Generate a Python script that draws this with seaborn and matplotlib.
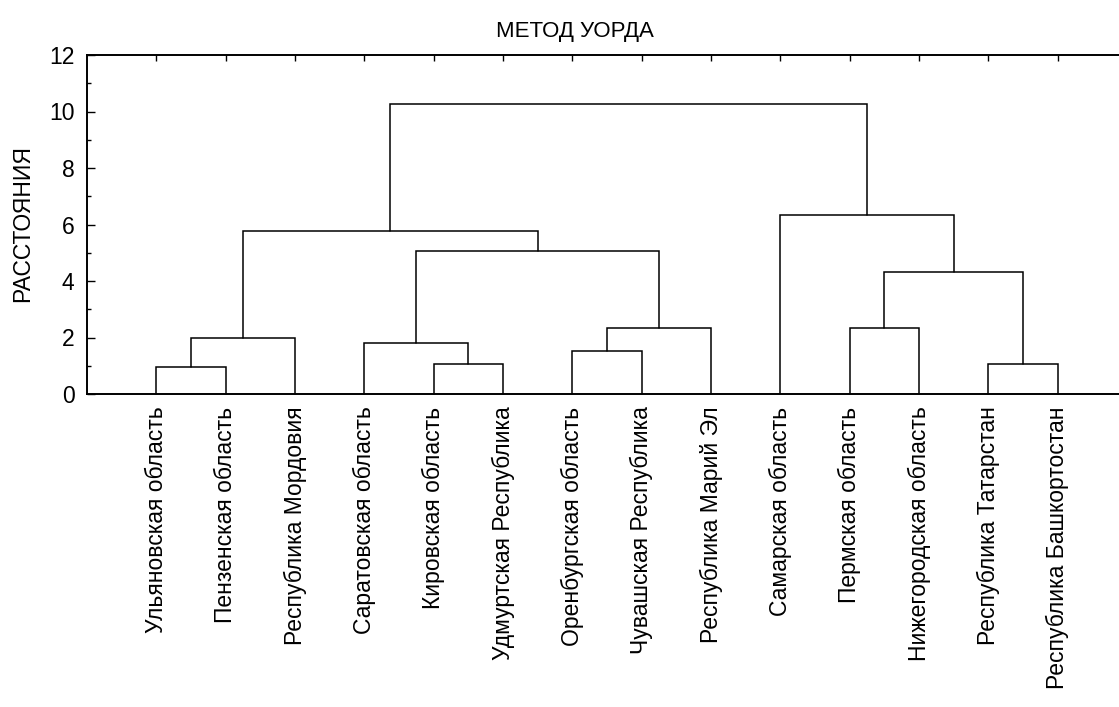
import numpy as np
import matplotlib
matplotlib.use('Agg')
import matplotlib.pyplot as plt
import seaborn as sns
from matplotlib.ticker import MultipleLocator

# --- data: leaf order and Ward linkage (scipy style, leaves 0..13, new clusters 14..) ---
regions = ['Ульяновская область', 'Пензенская область', 'Республика Мордовия',
           'Саратовская область', 'Кировская область', 'Удмуртская Республика',
           'Оренбургская область', 'Чувашская Республика', 'Республика Марий Эл',
           'Самарская область', 'Пермская область', 'Нижегородская область',
           'Республика Татарстан', 'Республика Башкортостан']

merge_left = [0, 4, 12, 6, 3, 14, 10, 17, 20, 18, 19, 9, 24]
merge_right = [1, 5, 13, 7, 15, 2, 11, 8, 16, 21, 23, 22, 25]
merge_height = [0.97, 1.05, 1.07, 1.51, 1.82, 1.97, 2.34, 2.34, 4.33, 5.05, 5.77, 6.34, 10.27]

sns.set_theme(style='white')
plt.rcParams['font.family'] = ['Liberation Sans', 'DejaVu Sans']
plt.rcParams.update({'text.color': 'black', 'xtick.color': 'black',
                     'ytick.color': 'black', 'axes.labelcolor': 'black'})

W, H = 1119, 707
fig = plt.figure(figsize=(W / 100, H / 100), dpi=100)
# axes runs past the right edge of the figure, like the original
ax = fig.add_axes([87 / W, 1 - 394 / H, (1127 - 87) / W, (394 - 55) / H])

# node positions: leaves at 1..n, clusters at midpoint of children
n = len(regions)
node_x = {i: i + 1.0 for i in range(n)}
node_y = {i: 0.0 for i in range(n)}
for k, (a, b, h) in enumerate(zip(merge_left, merge_right, merge_height)):
    xa, xb = node_x[a], node_x[b]
    ax.plot([xa, xa, xb, xb], [node_y[a], h, h, node_y[b]], color='black', lw=1.1,
            solid_joinstyle='miter', clip_on=False)
    node_x[n + k] = (xa + xb) / 2
    node_y[n + k] = h

ax.set_xlim(0, 15)
ax.set_ylim(0, 12)
ax.set_xticks(np.arange(1, n + 1))
ax.set_xticklabels(regions, rotation=90, fontsize=16.5)
ax.yaxis.set_major_locator(MultipleLocator(2))
ax.yaxis.set_minor_locator(MultipleLocator(1))
ax.tick_params(axis='y', which='major', direction='in', length=6, width=1, pad=9,
               labelsize=16.5, color='black', left=True)
ax.tick_params(axis='y', which='minor', direction='in', length=3, width=1, left=True)
ax.tick_params(axis='x', which='major', direction='in', length=4, width=1, pad=9,
               top=True, bottom=False, color='black')

for side in ['left', 'top', 'bottom']:
    ax.spines[side].set_visible(True)
    ax.spines[side].set_color('black')
    ax.spines[side].set_linewidth(1.4)
ax.spines['right'].set_visible(False)

fig.text(575 / W, 1 - 31 / H, 'МЕТОД УОРДА', ha='center', va='center', fontsize=16)
fig.text(23 / W, 1 - 223 / H, 'РАССТОЯНИЯ', ha='center', va='center', rotation=90, fontsize=16.5)

fig.savefig('out.png', dpi=100, facecolor='white')
